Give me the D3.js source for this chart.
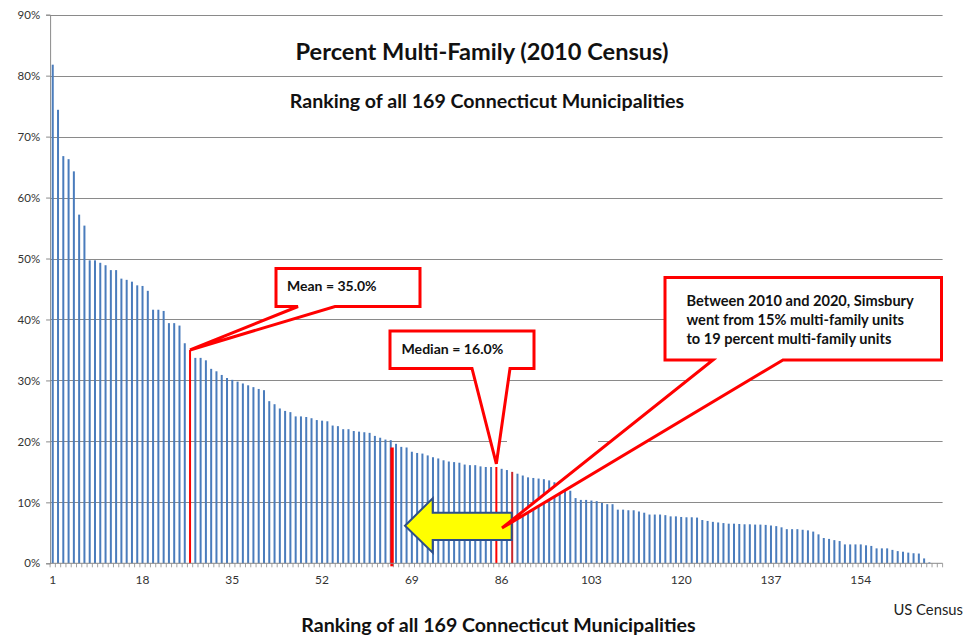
<!DOCTYPE html>
<html><head><meta charset="utf-8">
<script src="https://cdn.jsdelivr.net/npm/d3@7"></script>
<style>
body{margin:0;background:#fff}
svg{display:block}
text{font-family:Lato,"Open Sans","Liberation Sans",sans-serif}
</style>
</head><body>
<svg id="chart" width="972" height="638"></svg>
<script>
// ---------------- data ----------------
const ranks = d3.range(1, 170);
const pctValues = [
  81.8, 74.4, 66.8, 66.3, 64.3, 57.2, 55.4, 49.7, 49.7, 49.3,
  48.9, 48.1, 48.1, 46.7, 46.5, 46.2, 45.6, 45.5, 44.7, 41.6,
  41.6, 41.4, 39.4, 39.4, 39.0, 36.1, 35.0, 33.7, 33.7, 33.3,
  31.9, 31.5, 30.9, 30.4, 30.1, 29.8, 29.5, 29.2, 28.9, 28.6,
  28.4, 26.6, 26.1, 25.4, 25.0, 24.8, 24.1, 24.1, 24.0, 23.8,
  23.5, 23.4, 23.3, 22.6, 22.5, 22.0, 22.0, 21.7, 21.6, 21.5,
  21.4, 20.9, 20.6, 20.3, 20.2, 19.6, 19.1, 19.0, 18.3, 18.1,
  18.0, 17.7, 17.4, 17.2, 16.9, 16.7, 16.6, 16.5, 16.2, 16.1,
  16.1, 15.9, 15.8, 15.8, 15.8, 15.5, 15.3, 15.0, 14.7, 14.4,
  14.1, 14.0, 13.9, 13.8, 13.6, 13.3, 13.0, 12.4, 11.9, 10.7,
  10.4, 10.4, 10.3, 10.2, 9.9, 9.7, 9.7, 8.8, 8.8, 8.7,
  8.7, 8.5, 8.3, 8.0, 8.0, 8.0, 7.9, 7.7, 7.7, 7.6,
  7.55, 7.55, 7.5, 7.1, 6.95, 6.8, 6.7, 6.6, 6.5, 6.5,
  6.45, 6.4, 6.4, 6.35, 6.35, 6.3, 6.2, 6.1, 5.9, 5.6,
  5.6, 5.6, 5.5, 5.4, 5.2, 4.75, 4.15, 4.0, 3.8, 3.65,
  3.1, 3.1, 3.1, 3.1, 2.95, 2.85, 2.45, 2.45, 2.45, 2.2,
  2.0, 1.9, 1.75, 1.65, 1.6, 0.8, 0.15, 0, 0
];
const yTickValues = [0, 10, 20, 30, 40, 50, 60, 70, 80, 90];
const xTickLabels = [1, 18, 35, 52, 69, 86, 103, 120, 137, 154];
const highlightRed = [27, 85];      // mean, median bars
const highlightDarkRed = [88];      // Simsbury 2010
const meanValue = 35.0, medianValue = 16.0;
const simsbury2010 = 15, simsbury2020 = 19.0;
const simsbury2020SlotRank = 65;    // thick red line sits just right of this rank
const titleText = "Percent Multi-Family (2010 Census)";
const subTitleText = "Ranking of all 169 Connecticut Municipalities";
const xAxisTitle = "Ranking of all 169 Connecticut Municipalities";
const sourceText = "US Census";
const meanLabel = "Mean = 35.0%";
const medianLabel = "Median = 16.0%";
const noteLines = ["Between 2010 and 2020, Simsbury",
                   "went from 15% multi-family units",
                   "to 19 percent multi-family units"];

// ---------------- layout ----------------
const svg = d3.select("#chart");
const plot = {left: 50.1, right: 942.6, top: 14.7, bottom: 563.3};
const x = d3.scaleBand().domain(ranks).range([plot.left, plot.right]).paddingInner(0).paddingOuter(0);
const y = d3.scaleLinear().domain([0, 90]).range([plot.bottom, plot.top]);
const bw = x.bandwidth();
const cx = r => x(r) + bw / 2;
const gridColor = "#8a8a8a";

// gridlines
svg.append("g").selectAll("line").data(yTickValues.filter(d => d > 0)).join("line")
  .attr("x1", plot.left).attr("x2", plot.right)
  .attr("y1", d => Math.round(y(d)) + 0.5).attr("y2", d => Math.round(y(d)) + 0.5)
  .attr("stroke", gridColor).attr("stroke-width", 1);
// hidden segment of 20% gridline (masked in the original)
svg.append("rect").attr("x", 507).attr("y", y(20) - 4).attr("width", 91).attr("height", 8).attr("fill", "#fff");

// bars
const data = ranks.map((r, i) => ({rank: r, value: pctValues[i]}));
svg.append("g").selectAll("rect").data(data).join("rect")
  .attr("x", d => cx(d.rank) - 1)
  .attr("width", 2)
  .attr("y", d => y(d.value))
  .attr("height", d => y(0) - y(d.value))
  .attr("fill", d => highlightRed.includes(d.rank) ? "#ff0000" : highlightDarkRed.includes(d.rank) ? "#c8262b" : "#4a7cbc");

// thick red line (Simsbury 2020)
svg.append("rect")
  .attr("x", x(simsbury2020SlotRank) + bw * 0.75 - 1.7)
  .attr("width", 3.4)
  .attr("y", y(simsbury2020))
  .attr("height", y(0) - y(simsbury2020) + 3)
  .attr("fill", "#ff0000");

// y axis
const yAxis = d3.axisLeft(y).tickValues(yTickValues).tickFormat(d => d + "%").tickSize(4).tickPadding(6);
const gy = svg.append("g").attr("transform", `translate(${plot.left},0)`).call(yAxis);
gy.select(".domain").attr("stroke", gridColor);
gy.selectAll(".tick line").attr("stroke", gridColor);
gy.selectAll("text").attr("font-size", 11.5).attr("fill", "#333").style("font-family", "Lato, sans-serif");

// x axis (ticks between categories)
svg.append("line").attr("x1", plot.left).attr("x2", plot.right)
  .attr("y1", plot.bottom).attr("y2", plot.bottom).attr("stroke", gridColor);
svg.append("g").selectAll("line").data(ranks.concat([170])).join("line")
  .attr("x1", d => d <= 169 ? x(d) : plot.right).attr("x2", d => d <= 169 ? x(d) : plot.right)
  .attr("y1", plot.bottom).attr("y2", plot.bottom + 4)
  .attr("stroke", gridColor).attr("stroke-width", 0.8);
svg.append("g").selectAll("text").data(xTickLabels).join("text")
  .attr("x", d => cx(d)).attr("y", plot.bottom + 21)
  .attr("text-anchor", "middle").attr("font-size", 12).attr("fill", "#333")
  .text(d => d);

// titles
svg.append("text").attr("x", 482).attr("y", 60).attr("text-anchor", "middle")
  .attr("font-size", 23.6).attr("font-weight", "bold").attr("fill", "#111").text(titleText);
svg.append("text").attr("x", 487).attr("y", 108).attr("text-anchor", "middle")
  .attr("font-size", 19.6).attr("font-weight", "bold").attr("fill", "#111").text(subTitleText);
svg.append("text").attr("x", 498.5).attr("y", 632).attr("text-anchor", "middle")
  .attr("font-size", 19.6).attr("font-weight", "bold").attr("fill", "#111").text(xAxisTitle);
svg.append("text").attr("x", 963).attr("y", 615).attr("text-anchor", "end")
  .attr("font-size", 14.8).attr("fill", "#222").text(sourceText);

// callout helper: box with wedge pointer on bottom edge
function callout(box, baseL, baseR, tip) {
  const {x0, y0, x1, y1} = box;
  const p = d3.path();
  p.moveTo(x0, y0); p.lineTo(x1, y0); p.lineTo(x1, y1);
  p.lineTo(baseR, y1); p.lineTo(tip[0], tip[1]); p.lineTo(baseL, y1);
  p.lineTo(x0, y1); p.closePath();
  svg.append("path").attr("d", p.toString()).attr("fill", "#fff")
    .attr("stroke", "#ff0000").attr("stroke-width", 3).attr("stroke-linejoin", "miter");
}

// mean callout
callout({x0: 276, y0: 268.5, x1: 420, y1: 306.5}, 298, 335, [cx(27), y(meanValue)]);
svg.append("text").attr("x", 287).attr("y", 291).attr("font-size", 14).attr("font-weight", "bold")
  .attr("fill", "#111").text(meanLabel);

// median callout
callout({x0: 390, y0: 331, x1: 534, y1: 368.5}, 472, 510, [cx(85), y(medianValue) - 2]);
svg.append("text").attr("x", 401.5).attr("y", 354).attr("font-size", 14.1).attr("font-weight", "bold")
  .attr("fill", "#111").text(medianLabel);

// yellow arrow
const arrowPts = [[405, 525.7], [432.7, 498.3], [432.7, 512.7], [511.7, 512.7],
                  [511.7, 540], [432.7, 540], [432.7, 552.7]];
svg.append("polygon").attr("points", arrowPts.map(p => p.join(",")).join(" "))
  .attr("fill", "#ffff00").attr("stroke", "#2d4f8a").attr("stroke-width", 2)
  .attr("stroke-linejoin", "miter");

// Simsbury callout
callout({x0: 665, y0: 277.5, x1: 941.5, y1: 360}, 713, 783, [502, 528]);
svg.append("g").selectAll("text").data(noteLines).join("text")
  .attr("x", 686.5).attr("y", (d, i) => 305.5 + i * 19.3)
  .attr("font-size", 14.6).attr("font-weight", "bold").attr("fill", "#111").text(d => d);
</script>
</body></html>
